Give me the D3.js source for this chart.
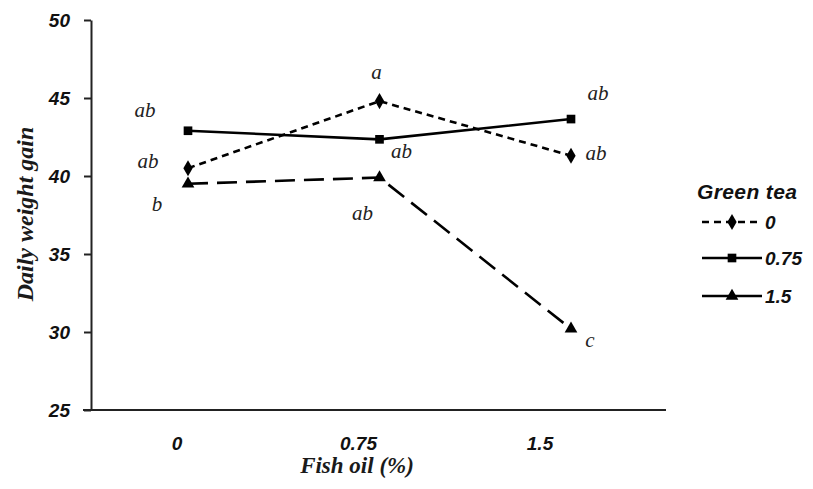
<!DOCTYPE html>
<html>
<head>
<meta charset="utf-8">
<script src="https://cdn.jsdelivr.net/npm/d3@7"></script>
<style>
  body { margin: 0; background: #fff; }
  .tick text { font-family: "Liberation Sans", Arial, sans-serif; font-weight: bold; font-style: italic; }
</style>
</head>
<body>
<div class="chart"></div>
<script>
// Chart data
var fishOil = ["0", "0.75", "1.5"];
var greenTea = ["0", "0.75", "1.5"];
var gain0 = [40.5, 44.8, 41.3];
var gain075 = [42.9, 42.35, 43.65];
var gain15 = [39.5, 39.9, 30.2];
var letters0 = ["ab", "a", "ab"];
var letters075 = ["ab", "ab", "ab"];
var letters15 = ["b", "ab", "c"];
var yTicks = [25, 30, 35, 40, 45, 50];

var svgWidth = 813;
var svgHeight = 489;

var svg = d3.select(".chart")
  .append("svg")
  .attr("width", svgWidth)
  .attr("height", svgHeight);

// Scales
var xScale = d3.scalePoint().domain(fishOil).range([188, 571]);
var xLabelScale = d3.scalePoint().domain(fishOil).range([177, 540]);
var yScale = d3.scaleLinear().domain([25, 50]).range([410, 20]);

// Series styling + label offsets (dx, dy from the point)
var series = [
  { name: greenTea[0], values: gain0, letters: letters0, dash: "7,5", legendDash: "7,5", marker: d3.symbolDiamond, size: 75,
    offsets: [[-40, -8], [-3, -29], [25, -3]] },
  { name: greenTea[1], values: gain075, letters: letters075, dash: null, legendDash: null, marker: d3.symbolSquare, size: 75,
    offsets: [[-43, -21], [22, 11], [27, -26]] },
  { name: greenTea[2], values: gain15, letters: letters15, dash: "20,9", legendDash: null, marker: d3.symbolTriangle, size: 70,
    offsets: [[-31, 20], [-17, 35], [19, 11]] }
];

// Y axis
var yAxis = d3.axisLeft(yScale).tickValues(yTicks).tickSize(7).tickSizeOuter(0).tickPadding(14);
var gy = svg.append("g")
  .attr("transform", "translate(91,0)")
  .call(yAxis);
gy.select(".domain").attr("stroke", "#222").attr("stroke-width", 2);
gy.selectAll(".tick line").attr("stroke", "#222").attr("stroke-width", 2);
gy.selectAll(".tick text").attr("font-size", 19).attr("fill", "#111").attr("dy", "0.36em");

// X axis: baseline plus labels
svg.append("line")
  .attr("x1", 83).attr("x2", 666)
  .attr("y1", yScale(25)).attr("y2", yScale(25))
  .attr("stroke", "#222").attr("stroke-width", 2);

svg.selectAll(".xlab")
  .data(fishOil)
  .enter()
  .append("text")
  .attr("class", "xlab")
  .attr("x", d => xLabelScale(d))
  .attr("y", 450)
  .attr("text-anchor", "middle")
  .attr("font-family", "Liberation Sans, Arial, sans-serif")
  .attr("font-weight", "bold")
  .attr("font-style", "italic")
  .attr("font-size", 19)
  .attr("fill", "#111")
  .text(d => d);

// Axis titles
svg.append("text")
  .attr("transform", "translate(33,214) rotate(-90)")
  .attr("text-anchor", "middle")
  .attr("font-family", "Liberation Serif, Times New Roman, serif")
  .attr("font-weight", "bold")
  .attr("font-style", "italic")
  .attr("font-size", 24)
  .attr("fill", "#1a1a1a")
  .text("Daily weight gain");

svg.append("text")
  .attr("x", 357)
  .attr("y", 473)
  .attr("text-anchor", "middle")
  .attr("font-family", "Liberation Serif, Times New Roman, serif")
  .attr("font-weight", "bold")
  .attr("font-style", "italic")
  .attr("font-size", 23)
  .attr("fill", "#1a1a1a")
  .text("Fish oil (%)");

// Lines
var line = d3.line()
  .x((d, i) => xScale(fishOil[i]))
  .y(d => yScale(d));

series.forEach(function (s) {
  svg.append("path")
    .datum(s.values)
    .attr("d", line)
    .attr("fill", "none")
    .attr("stroke", "#000")
    .attr("stroke-width", 2.6)
    .attr("stroke-dasharray", s.dash);

  svg.selectAll(null)
    .data(s.values)
    .enter()
    .append("path")
    .attr("d", d3.symbol().type(s.marker).size(s.size))
    .attr("transform", (d, i) => `translate(${xScale(fishOil[i])},${yScale(d)})`)
    .attr("fill", "#000");

  svg.selectAll(null)
    .data(s.values)
    .enter()
    .append("text")
    .attr("x", (d, i) => xScale(fishOil[i]) + s.offsets[i][0])
    .attr("y", (d, i) => yScale(d) + s.offsets[i][1])
    .attr("dy", "0.35em")
    .attr("text-anchor", "middle")
    .attr("font-family", "Liberation Serif, Times New Roman, serif")
    .attr("font-style", "italic")
    .attr("font-size", 21)
    .attr("fill", "#222")
    .text((d, i) => s.letters[i]);
});

// Legend
var legend = svg.append("g").attr("transform", "translate(697,0)");
legend.append("text")
  .attr("x", 0).attr("y", 199)
  .attr("font-family", "Liberation Sans, Arial, sans-serif")
  .attr("font-weight", "bold")
  .attr("font-style", "italic")
  .attr("font-size", 21)
  .attr("textLength", 100)
  .attr("fill", "#111")
  .text("Green tea");

var legendY = [222, 258, 296];
series.forEach(function (s, i) {
  var g = legend.append("g").attr("transform", `translate(0,${legendY[i]})`);
  g.append("line")
    .attr("x1", 5).attr("x2", 65)
    .attr("stroke", "#000").attr("stroke-width", 2.6)
    .attr("stroke-dasharray", s.legendDash);
  g.append("path")
    .attr("d", d3.symbol().type(s.marker).size(s.size))
    .attr("transform", "translate(35,0)")
    .attr("fill", "#000");
  g.append("text")
    .attr("x", 68).attr("dy", "0.36em")
    .attr("font-family", "Liberation Sans, Arial, sans-serif")
    .attr("font-weight", "bold")
    .attr("font-style", "italic")
    .attr("font-size", 19)
    .attr("fill", "#111")
    .text(s.name);
});
</script>
</body>
</html>
